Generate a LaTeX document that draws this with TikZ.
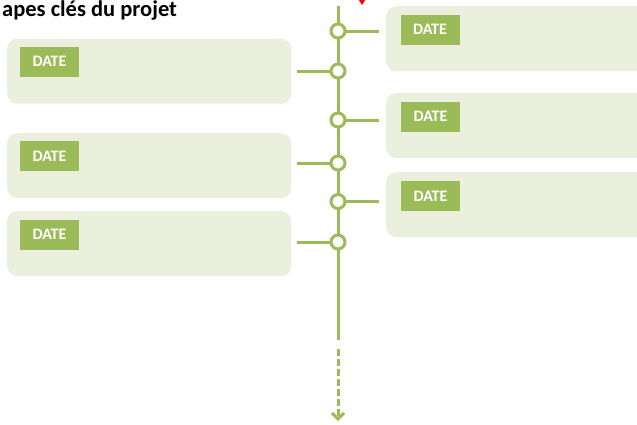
\documentclass[tikz,border=0pt]{standalone}
\usepackage{fontspec}
\setmainfont{Carlito}
\usetikzlibrary{arrows.meta}
\definecolor{grn}{HTML}{9BBB59}
\definecolor{lgrn}{HTML}{EBF0DE}
\begin{document}
\begin{tikzpicture}[x=1pt,y=-1pt,
  card/.style={fill=lgrn, rounded corners=10pt, inner sep=0pt, anchor=north west},
  datebox/.style={fill=grn, text=white, font=\bfseries\fontsize{16}{16}\selectfont, minimum width=59pt, minimum height=30pt, inner sep=0pt},
  milestone/.style={circle, draw=grn, fill=white, line width=3pt, minimum size=14pt, inner sep=0pt},
  link/.style={draw=grn, line width=3pt}]
\useasboundingbox (0,0) rectangle (637,424);
\clip (0,0) rectangle (637,424);
% title
\node[anchor=base west, font=\bfseries\fontsize{22.5}{22.5}\selectfont, inner sep=0pt] (title) at (2,16) {apes clés du projet};
% red mark
\fill[red] (357,-3) -- (362,5) -- (367,-3) -- cycle;
% cards
\node[card, minimum width=284pt, minimum height=65pt] (L1) at (7,38.5) {};
\node[card, minimum width=284pt, minimum height=65pt] (L2) at (7,133) {};
\node[card, minimum width=284pt, minimum height=65pt] (L3) at (7,211) {};
\node[card, minimum width=270pt, minimum height=65pt] (R1) at (386,6) {};
\node[card, minimum width=270pt, minimum height=65pt] (R2) at (386,93) {};
\node[card, minimum width=270pt, minimum height=65pt] (R3) at (386,172) {};
% date labels
\node[datebox] (dL1) at (49.5,61.5) {DATE};
\node[datebox] (dL2) at (49.5,156) {DATE};
\node[datebox] (dL3) at (49.5,234.5) {DATE};
\node[datebox] (dR1) at (430,29.5) {DATE};
\node[datebox] (dR2) at (430.5,116.5) {DATE};
\node[datebox] (dR3) at (430.5,196) {DATE};
% timeline
\coordinate (top) at (338,6);
\coordinate (solidend) at (338,340);
\coordinate (dashstart) at (338,349);
\coordinate (tip) at (338,421);
\draw[link] (top) -- (solidend);
\draw[link, dash pattern=on 7pt off 3pt, -{Straight Barb[length=6pt,width=12pt]}] (dashstart) -- (tip);
% connectors
\coordinate (r1) at (379,31);
\coordinate (r2) at (379,120);
\coordinate (r3) at (379,201.5);
\coordinate (l1) at (297,71);
\coordinate (l2) at (297,163);
\coordinate (l3) at (297,242);
\draw[link] (r1) -- (338,31);
\draw[link] (r2) -- (338,120);
\draw[link] (r3) -- (338,201.5);
\draw[link] (l1) -- (338,71);
\draw[link] (l2) -- (338,163);
\draw[link] (l3) -- (338,242);
% milestones
\node[milestone] (m1) at (338,31) {};
\node[milestone] (m2) at (338,71) {};
\node[milestone] (m3) at (338,120) {};
\node[milestone] (m4) at (338,163) {};
\node[milestone] (m5) at (338,201.5) {};
\node[milestone] (m6) at (338,242) {};
\end{tikzpicture}
\end{document}
